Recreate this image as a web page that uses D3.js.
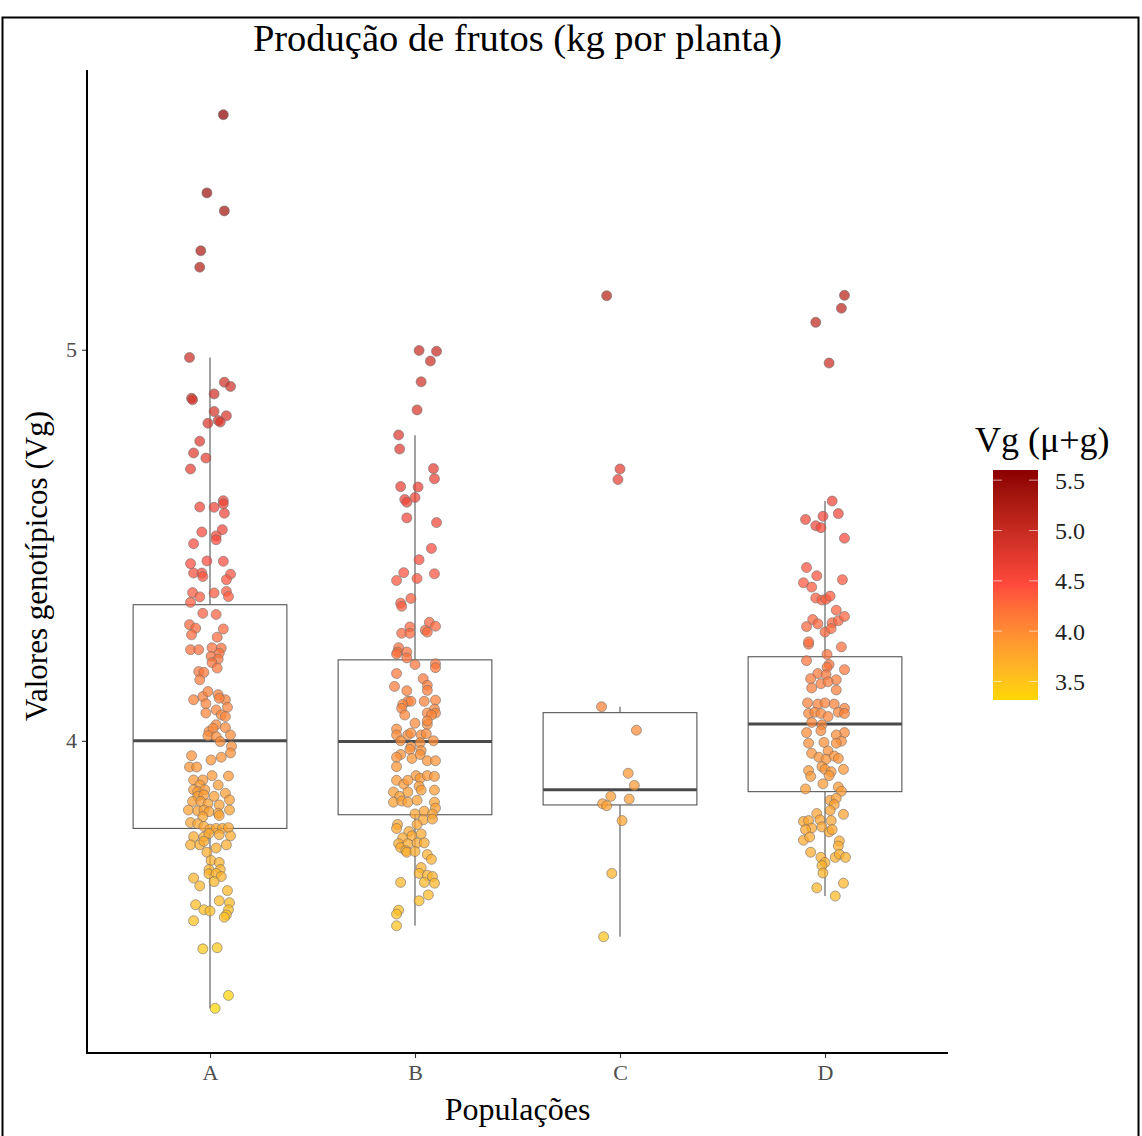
<!DOCTYPE html>
<html lang="pt">
<head>
<meta charset="utf-8">
<title>Produção de frutos</title>
<script src="https://cdn.jsdelivr.net/npm/d3@7"></script>
<style>
  body { margin: 0; background: #fff; }
  svg text { font-family: "Liberation Serif", "Times New Roman", serif; }
</style>
</head>
<body>
<svg id="chart"></svg>
<script>
// populations on the x axis
var categories = ["A", "B", "C", "D"];

// genotypic values per population: [Vg, horizontal jitter (fraction of category step)]
var popA = [
  [5.601,.065],[5.401,-.015],[5.355,.07],[5.253,-.045],[5.211,-.05],[4.980,-.1],[4.917,.07],[4.906,.1],
  [4.876,-.09],[4.872,-.085],[4.887,.02],[4.842,.02],[4.831,.08],[4.812,-.01],[4.819,.04],[4.815,.05],
  [4.766,-.05],[4.736,-.08],[4.723,-.02],[4.695,-.095],[4.614,.065],[4.606,.065],[4.598,-.05],[4.597,.02],[4.582,.07],
  [4.534,-.04],[4.540,.06],[4.524,.03],[4.514,.03],[4.504,-.08],[4.460,-.015],[4.459,.065],[4.453,-.095],[4.429,-.08],
  [4.429,-.04],[4.420,-.035],[4.426,.1],[4.412,.08],[4.379,-.085],[4.368,-.05],[4.378,.02],[4.382,.08],[4.369,.09],[4.354,-.095],
  [4.326,-.035],[4.323,.03],[4.297,-.1],[4.288,-.07],[4.271,-.09],[4.286,.065],[4.265,.035],[4.233,-.095],[4.233,-.055],
  [4.238,.01],[4.237,.055],[4.224,.045],[4.216,.005],[4.209,.04],[4.200,.01],[4.186,.035],[4.177,-.055],[4.175,-.03],
  [4.156,-.05],[4.105,-.08],[4.113,-.035],[4.126,-.01],[4.118,.04],[4.105,.075],[4.095,-.02],[4.109,.045],[4.086,.085],
  [4.071,-.02],[4.079,.03],[4.066,.055],[4.062,.075],[4.041,.03],[4.034,.075],[4.024,-.005],[4.032,.015],[4.013,-.01],
  [4.011,.03],[3.998,.05],[4.015,.1],[3.986,.105],[3.969,.1],[3.962,-.09],[3.951,.005],[3.958,.055],[3.933,-.1],
  [3.933,-.065],[3.910,.09],[3.911,.01],[3.900,-.08],[3.900,-.035],[3.887,-.05],[3.887,.04],[3.875,-.08],[3.870,-.06],
  [3.875,-.025],[3.858,-.06],[3.862,-.03],[3.866,.075],[3.858,.02],[3.845,-.085],[3.845,-.045],[3.839,-.01],[3.849,.095],
  [3.836,.045],[3.823,-.105],[3.821,-.06],[3.823,-.03],[3.819,-.005],[3.815,.04],[3.823,.095],[3.806,-.035],[3.809,.045],
  [3.791,-.095],[3.788,-.06],[3.781,-.03],[3.774,0],[3.776,.03],[3.776,.06],[3.778,.09],[3.755,-.08],[3.754,-.03],
  [3.757,.1],[3.763,-.005],[3.760,.045],[3.734,-.095],[3.734,-.05],[3.743,-.03],[3.726,.03],[3.734,.08],[3.715,-.015],
  [3.694,.005],[3.689,.045],[3.671,-.005],[3.671,.05],[3.660,-.005],[3.661,.03],[3.653,.055],[3.649,-.08],[3.640,.02],
  [3.629,-.05],[3.617,.085],[3.581,-.07],[3.591,.045],[3.586,.095],[3.568,-.03],[3.565,0],[3.568,.09],[3.555,.08],
  [3.549,.07],[3.540,-.08],[3.468,-.035],[3.471,.035],[3.349,.09],[3.316,.025]
];
var popB = [
  [4.998,.02],[4.996,.105],[4.971,.075],[4.918,.03],[4.846,.01],[4.782,-.08],[4.746,-.075],[4.696,.09],[4.670,.095],
  [4.650,-.07],[4.649,.015],[4.617,-.05],[4.610,-.04],[4.622,0],[4.570,-.04],[4.558,.105],[4.492,.08],[4.463,.02],
  [4.430,-.055],[4.410,-.09],[4.415,.01],[4.427,.095],[4.352,-.07],[4.344,-.065],[4.364,-.02],[4.291,-.025],[4.275,-.065],
  [4.275,-.025],[4.283,.05],[4.278,.06],[4.303,.07],[4.293,.1],[4.238,-.08],[4.227,-.085],[4.222,-.09],[4.227,-.04],
  [4.212,-.04],[4.195,0],[4.197,.1],[4.187,.1],[4.172,-.09],[4.139,-.1],[4.159,.04],[4.142,.06],[4.129,.06],[4.128,-.04],
  [4.101,-.035],[4.101,-.02],[4.093,-.06],[4.083,-.065],[4.101,.045],[4.104,.1],[4.081,.095],[4.071,.1],[4.071,.06],
  [4.066,.08],[4.066,-.05],[4.045,0],[4.042,.06],[4.051,.06],[4.030,-.09],[4.015,-.09],[4.015,-.035],[4.020,-.02],
  [4.015,.03],[4.018,.055],[4.000,-.07],[3.995,.025],[4.000,.09],[3.985,-.02],[3.978,-.025],[3.975,.03],[3.965,-.07],
  [3.958,-.09],[3.934,-.09],[3.955,-.015],[3.965,.025],[3.949,.06],[3.949,.1],[3.911,.005],[3.904,.025],[3.911,.06],
  [3.909,.095],[3.899,-.09],[3.889,-.055],[3.899,-.035],[3.884,.02],[3.874,.095],[3.869,-.105],[3.858,-.075],[3.869,-.035],
  [3.843,-.105],[3.846,-.065],[3.843,-.035],[3.848,.01],[3.874,.03],[3.843,.095],[3.828,.1],[3.813,0],[3.820,.045],
  [3.813,.085],[3.798,.04],[3.800,.085],[3.786,-.085],[3.776,-.09],[3.786,.01],[3.768,-.03],[3.752,-.06],[3.757,-.015],
  [3.762,.03],[3.737,-.08],[3.727,-.07],[3.737,-.035],[3.739,.01],[3.739,.045],[3.719,-.045],[3.715,-.04],[3.717,0],
  [3.709,.06],[3.697,.08],[3.676,.03],[3.661,.02],[3.656,.06],[3.653,.085],[3.638,.045],[3.636,.095],[3.638,-.07],
  [3.606,.065],[3.591,.02],[3.567,-.08],[3.557,-.09],[3.527,-.09]
];
var popC = [
  [5.138,-.065],[4.695,0],[4.668,-.01],[4.087,-.09],[4.027,.08],[3.917,.04],[3.886,.07],[3.858,-.045],[3.851,.045],
  [3.839,-.085],[3.834,-.065],[3.796,.01],[3.661,-.04],[3.499,-.08]
];
var popD = [
  [5.139,.095],[5.106,.08],[5.070,-.045],[4.966,.02],[4.613,.035],[4.566,-.095],[4.574,-.01],[4.581,.065],[4.550,-.045],
  [4.545,-.02],[4.518,.095],[4.443,-.09],[4.422,-.04],[4.404,-.105],[4.393,-.065],[4.412,.085],[4.365,-.045],[4.360,-.015],
  [4.362,.005],[4.370,.025],[4.334,.055],[4.310,-.06],[4.292,-.09],[4.299,-.035],[4.302,.035],[4.307,.065],[4.318,.095],
  [4.278,0],[4.287,.03],[4.247,-.08],[4.253,-.08],[4.240,.08],[4.221,.01],[4.205,-.09],[4.195,.02],[4.188,.01],[4.182,.095],
  [4.172,-.035],[4.169,.005],[4.159,-.07],[4.156,.055],[4.146,-.02],[4.151,.015],[4.135,-.065],[4.130,.055],[4.097,-.085],
  [4.094,-.035],[4.097,0],[4.094,.045],[4.083,.095],[4.070,-.08],[4.073,-.05],[4.070,-.02],[4.062,.015],[4.073,.065],
  [4.070,.095],[4.047,-.065],[4.041,-.015],[4.021,-.09],[4.026,-.02],[4.021,.095],[3.994,-.08],[3.996,-.005],[4.015,.055],
  [3.999,.08],[3.974,.015],[3.994,.055],[3.968,-.065],[3.958,-.03],[3.953,.005],[3.961,.045],[3.955,.065],[3.934,-.015],
  [3.927,0],[3.921,.03],[3.927,.09],[3.924,-.08],[3.909,-.07],[3.911,.02],[3.890,-.01],[3.877,-.095],[3.882,.065],
  [3.871,.08],[3.848,.025],[3.853,.055],[3.837,.045],[3.822,.025],[3.814,-.04],[3.812,.09],[3.794,-.105],[3.796,-.08],
  [3.798,-.025],[3.796,.03],[3.777,-.065],[3.773,-.095],[3.780,-.015],[3.767,.02],[3.773,.035],[3.746,-.105],[3.754,-.075],
  [3.744,.07],[3.731,.065],[3.715,-.07],[3.702,-.02],[3.689,0],[3.681,-.015],[3.702,.05],[3.710,.07],[3.702,.1],
  [3.662,-.01],[3.624,-.04],[3.636,.09],[3.603,.05]
];

// boxplot statistics per population
var boxLow    = [3.316, 3.527, 3.499, 3.603];
var boxQ1     = [3.776, 3.811, 3.836, 3.870];
var boxMedian = [4.000, 3.998, 3.875, 4.043];
var boxQ3     = [4.348, 4.207, 4.072, 4.215];
var boxHigh   = [4.980, 4.781, 4.087, 4.613];

var yTicks = [4, 5];
var legendBreaks = [3.5, 4.0, 4.5, 5.0, 5.5];

var W = 1142, H = 1136;
// panel edges (note: "top" is a reserved window property, so use other names)
var pLeft = 87, pRight = 948, pTop = 70, pBottom = 1053;

var svg = d3.select("#chart").attr("width", W).attr("height", H);

var groups = [popA, popB, popC, popD];
var points = [];
groups.forEach(function (g, i) {
  g.forEach(function (p) {
    points.push({ cat: categories[i], value: p[0], jitter: p[1] });
  });
});

var ext = d3.extent(points, function (d) { return d.value; });
var pad = (ext[1] - ext[0]) * 0.05;

var x = d3.scalePoint().domain(categories).range([pLeft, pRight]).padding(0.6);
var step = x.step();
var y = d3.scaleLinear().domain([ext[0] - pad, ext[1] + pad]).range([pBottom, pTop]);

var color = d3.scaleLinear()
  .domain([ext[0], (ext[0] + ext[1]) / 2, ext[1]])
  .range(["#FFD700", "#FF4A3D", "#8B0000"])
  .interpolate(d3.interpolateLab);

// boxes
var boxW = step * 0.75;
var boxes = svg.append("g").selectAll("g.box")
  .data(categories)
  .enter().append("g")
  .attr("class", "box");

boxes.append("line")
  .attr("x1", function (d) { return x(d); })
  .attr("x2", function (d) { return x(d); })
  .attr("y1", function (d, i) { return y(boxHigh[i]); })
  .attr("y2", function (d, i) { return y(boxQ3[i]); })
  .attr("stroke", "#555").attr("stroke-width", 1.1);
boxes.append("line")
  .attr("x1", function (d) { return x(d); })
  .attr("x2", function (d) { return x(d); })
  .attr("y1", function (d, i) { return y(boxQ1[i]); })
  .attr("y2", function (d, i) { return y(boxLow[i]); })
  .attr("stroke", "#555").attr("stroke-width", 1.1);
boxes.append("rect")
  .attr("x", function (d) { return x(d) - boxW / 2; })
  .attr("width", boxW)
  .attr("y", function (d, i) { return y(boxQ3[i]); })
  .attr("height", function (d, i) { return y(boxQ1[i]) - y(boxQ3[i]); })
  .attr("fill", "#fff").attr("stroke", "#555").attr("stroke-width", 1.1);
boxes.append("line")
  .attr("x1", function (d) { return x(d) - boxW / 2; })
  .attr("x2", function (d) { return x(d) + boxW / 2; })
  .attr("y1", function (d, i) { return y(boxMedian[i]); })
  .attr("y2", function (d, i) { return y(boxMedian[i]); })
  .attr("stroke", "#4a4a4a").attr("stroke-width", 3);

// jittered points
svg.append("g").selectAll("circle")
  .data(points)
  .enter().append("circle")
  .attr("cx", function (d) { return x(d.cat) + d.jitter * step; })
  .attr("cy", function (d) { return y(d.value); })
  .attr("r", 5)
  .attr("fill", function (d) { return color(d.value); })
  .attr("fill-opacity", 0.72)
  .attr("stroke", "#6e6e6e")
  .attr("stroke-opacity", 0.6)
  .attr("stroke-width", 1);

// axes
var yAxis = svg.append("g")
  .attr("transform", "translate(" + pLeft + ",0)")
  .call(d3.axisLeft(y).tickValues(yTicks).tickSize(5).tickPadding(5).tickFormat(d3.format("d")));
var xAxis = svg.append("g")
  .attr("transform", "translate(0," + pBottom + ")")
  .call(d3.axisBottom(x).tickSize(5).tickPadding(6));

[yAxis, xAxis].forEach(function (a) {
  a.select(".domain").remove();
  a.selectAll(".tick line").attr("stroke", "#333").attr("stroke-width", 1.1);
  a.selectAll(".tick text").attr("fill", "#4d4d4d").style("font-size", "22px")
    .style("font-family", "'Liberation Serif', serif");
});
svg.append("line").attr("x1", pLeft).attr("x2", pLeft).attr("y1", pTop).attr("y2", pBottom + 1)
  .attr("stroke", "#000").attr("stroke-width", 2);
svg.append("line").attr("x1", pLeft - 1).attr("x2", pRight).attr("y1", pBottom).attr("y2", pBottom)
  .attr("stroke", "#000").attr("stroke-width", 2);

// titles
svg.append("text")
  .attr("x", (pLeft + pRight) / 2).attr("y", 51)
  .attr("text-anchor", "middle")
  .style("font-size", "38.5px")
  .text("Produção de frutos (kg por planta)");
svg.append("text")
  .attr("x", (pLeft + pRight) / 2).attr("y", 1120)
  .attr("text-anchor", "middle")
  .style("font-size", "32px")
  .text("Populações");
svg.append("text")
  .attr("transform", "translate(47,566) rotate(-90)")
  .attr("text-anchor", "middle")
  .style("font-size", "31px")
  .text("Valores genotípicos (Vg)");

// legend
var legX = 993, legW = 45, legTop = 470, legBottom = 700;
var ly = d3.scaleLinear().domain(ext).range([legBottom, legTop]);
var grad = svg.append("defs").append("linearGradient")
  .attr("id", "vgGrad").attr("x1", 0).attr("y1", 1).attr("x2", 0).attr("y2", 0);
d3.range(0, 1.0001, 0.05).forEach(function (t) {
  grad.append("stop").attr("offset", t).attr("stop-color", color(ext[0] + t * (ext[1] - ext[0])));
});
svg.append("rect")
  .attr("x", legX).attr("y", legTop).attr("width", legW).attr("height", legBottom - legTop)
  .attr("fill", "url(#vgGrad)");
var lt = svg.append("g").selectAll("g")
  .data(legendBreaks).enter().append("g");
lt.append("line")
  .attr("x1", legX).attr("x2", legX + 9)
  .attr("y1", function (d) { return ly(d); }).attr("y2", function (d) { return ly(d); })
  .attr("stroke", "#fff").attr("stroke-opacity", 0.6);
lt.append("line")
  .attr("x1", legX + legW - 9).attr("x2", legX + legW)
  .attr("y1", function (d) { return ly(d); }).attr("y2", function (d) { return ly(d); })
  .attr("stroke", "#fff").attr("stroke-opacity", 0.6);
lt.append("text")
  .attr("x", legX + legW + 17)
  .attr("y", function (d) { return ly(d); })
  .attr("dy", "0.35em")
  .style("font-size", "24px")
  .attr("fill", "#222")
  .text(function (d) { return d3.format(".1f")(d); });
svg.append("text")
  .attr("x", 975).attr("y", 452)
  .style("font-size", "36px")
  .text("Vg (μ+g)");

// image frame
svg.append("rect")
  .attr("x", 2.5).attr("y", 17.5).attr("width", 1136).attr("height", 1130)
  .attr("fill", "none").attr("stroke", "#000").attr("stroke-width", 2);
</script>
</body>
</html>
